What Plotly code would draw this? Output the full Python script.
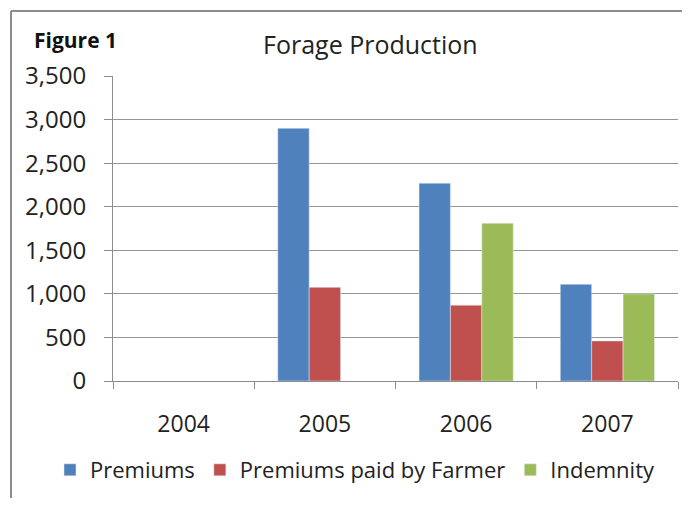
import plotly.graph_objects as go

years = ["2004", "2005", "2006", "2007"]
premiums = [None, 2900, 2270, 1110]
premiums_farmer = [None, 1075, 870, 460]
indemnity = [None, None, 1810, 1000]
y_ticks = [0, 500, 1000, 1500, 2000, 2500, 3000, 3500]
y_tick_labels = ["0", "500", "1,000", "1,500", "2,000", "2,500", "3,000", "3,500"]

FONT = "Open Sans"
OFF = 8  # page body margin
W, H = 690 - 2 * OFF, 506 - 2 * OFF
# desired plot area in screen pixels
SL, SR, ST, SB = 113, 678, 76, 381
L, T = SL - OFF, ST - OFF
R = W - (SR - OFF)
B = H - (SB - OFF)
pw = W - L - R
ph = H - T - B

fig = go.Figure()
fig.add_trace(go.Bar(x=years, y=premiums, name="Premiums", marker_color="#4F81BD"))
fig.add_trace(go.Bar(x=years, y=premiums_farmer, name="Premiums paid by Farmer", marker_color="#C0504D"))
fig.add_trace(go.Bar(x=years, y=indemnity, name="Indemnity", marker_color="#9BBB59"))

def px_x(p):
    return (p - SL) / pw

def px_y(p):
    return (SB - p) / ph

border = dict(color="#8C8C8C", width=2)
fig.update_layout(
    width=W, height=H,
    margin=dict(l=L, r=R, t=T, b=B, autoexpand=False),
    paper_bgcolor="white", plot_bgcolor="white",
    barmode="group", bargap=0.333, bargroupgap=0,
    font=dict(family=FONT, size=22, color="#222222"),
    showlegend=True,
    legend=dict(orientation="h", x=px_x(50), xanchor="left", y=px_y(470), yanchor="middle",
                font=dict(size=22, family=FONT), itemwidth=30, traceorder="normal",
                tracegroupgap=0, bgcolor="rgba(0,0,0,0)"),
    xaxis=dict(showline=True, linecolor="#8C8C8C", linewidth=1, ticks="outside", ticklen=7,
               tickcolor="#8C8C8C", tickson="boundaries", ticklabelstandoff=22,
               automargin=False, tickfont=dict(size=23, family=FONT)),
    yaxis=dict(range=[0, 3500], tickvals=y_ticks, ticktext=y_tick_labels, showline=True,
               linecolor="#8C8C8C", linewidth=1, ticks="outside", ticklen=8, tickcolor="#8C8C8C",
               showgrid=True, gridcolor="#969696", gridwidth=1, zeroline=False,
               automargin=False, ticklabelstandoff=13, tickfont=dict(size=24, family=FONT)),
    shapes=[
        dict(type="line", xref="paper", yref="paper", x0=px_x(11), y0=px_y(11),
             x1=px_x(700), y1=px_y(11), line=border),
        dict(type="line", xref="paper", yref="paper", x0=px_x(11), y0=px_y(11),
             x1=px_x(11), y1=px_y(520), line=border),
    ],
    annotations=[
        dict(text="<b>Figure 1</b>", xref="paper", yref="paper", x=px_x(32), y=px_y(40),
             xanchor="left", yanchor="middle", showarrow=False,
             font=dict(size=21, family=FONT, color="#111111")),
        dict(text="Forage Production", xref="paper", yref="paper", x=px_x(370), y=px_y(44),
             xanchor="center", yanchor="middle", showarrow=False,
             font=dict(size=25, family=FONT, color="#222222")),
    ],
)

fig.write_html("out.html")
